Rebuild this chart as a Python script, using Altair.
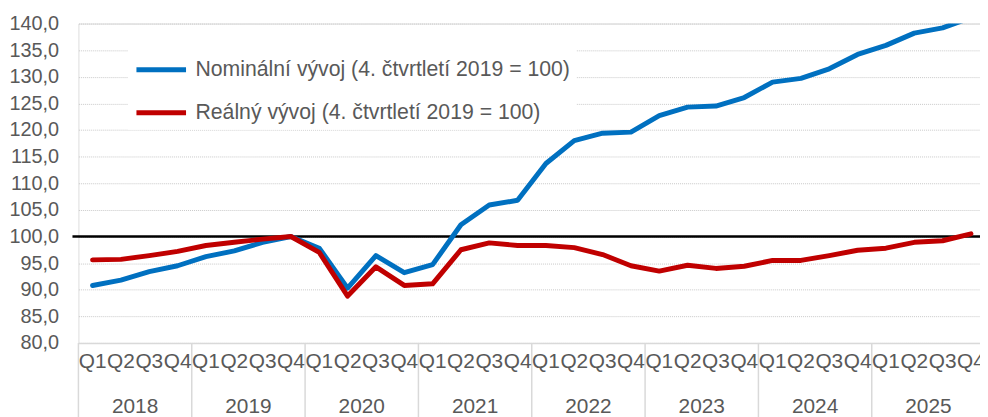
import altair as alt
import pandas as pd

years = ["2018", "2019", "2020", "2021", "2022", "2023", "2024", "2025"]
quarters = ["Q1", "Q2", "Q3", "Q4"]
nominal = [90.8, 91.8, 93.4, 94.5, 96.2, 97.3, 98.9, 100.0,
           97.8, 90.3, 96.4, 93.2, 94.7, 102.2, 105.9, 106.8,
           113.7, 118.0, 119.4, 119.6, 122.7, 124.3, 124.5, 126.1,
           129.0, 129.7, 131.5, 134.2, 135.9, 138.2, 139.2, 141.1]
real = [95.6, 95.7, 96.4, 97.2, 98.3, 98.9, 99.5, 100.0,
        97.0, 88.8, 94.3, 90.8, 91.1, 97.5, 98.8, 98.3,
        98.3, 97.9, 96.6, 94.5, 93.5, 94.6, 94.0, 94.4,
        95.5, 95.5, 96.4, 97.4, 97.8, 98.9, 99.2, 100.5]
series_names = ["Nominální vývoj (4. čtvrtletí 2019 = 100)",
                "Reálný vývoj (4. čtvrtletí 2019 = 100)"]
colors = ["#0070C0", "#C00000"]
y_ticks = [80, 85, 90, 95, 100, 105, 110, 115, 120, 125, 130, 135, 140]

W, H = 909, 322
FONT = "Liberation Sans"
TXT = "#595959"

n = len(nominal)
rows = []
for i in range(n):
    rows.append({"idx": i, "value": nominal[i], "series": series_names[0]})
for i in range(n):
    rows.append({"idx": i, "value": real[i], "series": series_names[1]})
df = pd.DataFrame(rows)

qdf = pd.DataFrame({"idx": list(range(n)),
                    "q": [quarters[i % 4] for i in range(n)]})
ydf = pd.DataFrame({"idx": [4 * k + 1.5 for k in range(len(years))], "year": years})
sdf = pd.DataFrame({"pos": [4 * k - 0.5 for k in range(len(years) + 1)]})

xscale = alt.Scale(domain=[-0.5, 31.32], nice=False, zero=False)
yscale = alt.Scale(domain=[80, 140], nice=False, zero=False)

x_axis = alt.Axis(grid=False, labels=False, ticks=False, domain=True,
                  domainColor="#d9d9d9", domainWidth=1.5, title=None)
y_axis = alt.Axis(values=y_ticks, format=".1f", tickCount=13,
                  labelExpr="replace(datum.label, '.', ',')",
                  labelOverlap=False,
                  grid=True, gridColor="#c8c8c8", gridDash=[1, 1],
                  gridWidth=1, domain=False, ticks=False,
                  labelPadding=20, labelFontSize=20, labelFont=FONT,
                  labelColor=TXT, title=None)

lines = alt.Chart(df).mark_line(
    strokeWidth=5, strokeJoin="round", strokeCap="round", clip=True
).encode(
    x=alt.X("idx:Q", scale=xscale, axis=x_axis),
    y=alt.Y("value:Q", scale=yscale, axis=y_axis),
    color=alt.Color("series:N",
                    scale=alt.Scale(domain=series_names, range=colors),
                    legend=alt.Legend(orient="none", legendX=50, legendY=13,
                                      fillColor="white", padding=6,
                                      symbolType="stroke", symbolSize=2500,
                                      symbolStrokeWidth=5, labelFontSize=21.4,
                                      labelFont=FONT, labelColor=TXT,
                                      labelLimit=700, labelOffset=7,
                                      rowPadding=5.4, title=None)),
    order=alt.Order("idx:Q"),
)

ref = alt.Chart(pd.DataFrame({"v": [100]})).mark_rule(
    color="black", strokeWidth=2.5
).encode(y=alt.Y("v:Q", scale=yscale, axis=y_axis), x=alt.value(-6), x2=alt.value(W))

seps = alt.Chart(sdf).mark_rule(color="#d9d9d9", strokeWidth=1.5).encode(
    x=alt.X("pos:Q", scale=xscale, axis=x_axis), y=alt.value(H), y2=alt.value(H + 80)
)

qlabels = alt.Chart(qdf).mark_text(
    fontSize=21, font=FONT, color=TXT, baseline="middle", align="center"
).encode(x=alt.X("idx:Q", scale=xscale, axis=x_axis), y=alt.value(H + 19.5), text="q:N")

ylabels = alt.Chart(ydf).mark_text(
    fontSize=21, font=FONT, color=TXT, baseline="middle", align="center"
).encode(x=alt.X("idx:Q", scale=xscale, axis=x_axis), y=alt.value(H + 64.5), text="year:N")

chart = alt.layer(seps, ref, lines, qlabels, ylabels).properties(
    width=W, height=H,
    autosize=alt.AutoSizeParams(type="none"),
    padding={"left": 71, "top": 14, "right": 0, "bottom": 73},
).configure_view(strokeWidth=0).configure(background="white")

chart.save("out.html", embed_options={"renderer": "svg", "actions": False})
